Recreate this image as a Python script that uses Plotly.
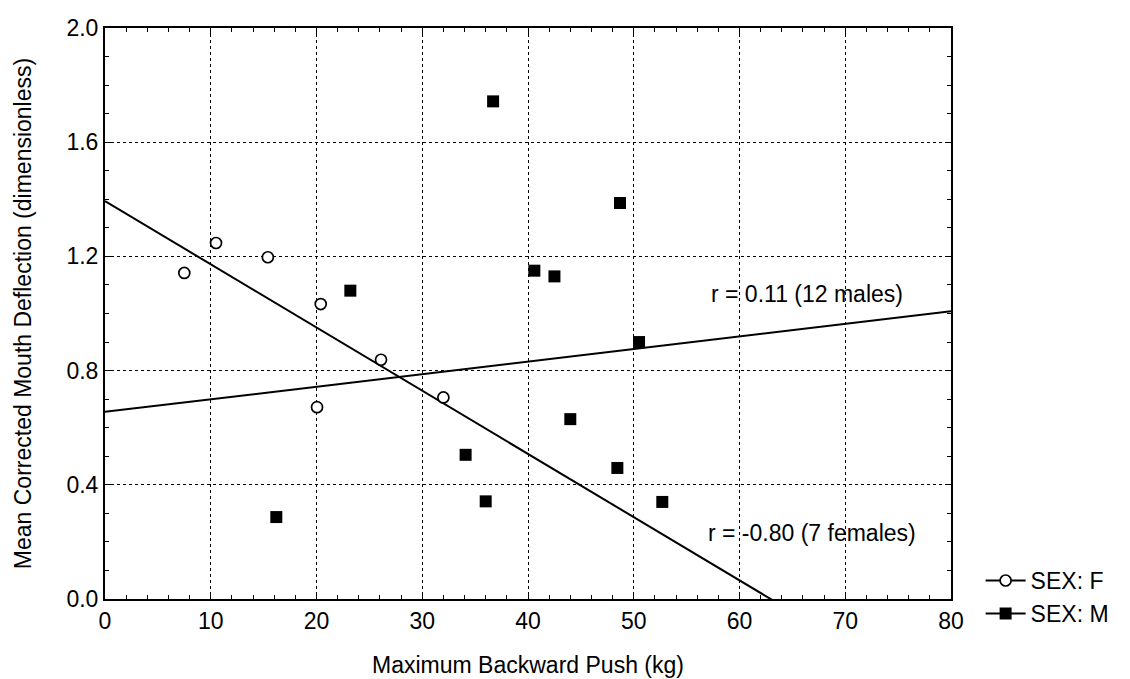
import numpy as np
import plotly.graph_objects as go

# Female data (open circles)
female_x = [7.5, 10.5, 15.4, 20.4, 20.05, 26.1, 32.0]
female_y = [1.142, 1.247, 1.197, 1.033, 0.672, 0.838, 0.706]

# Male data (filled squares)
male_x = [16.2, 23.2, 34.1, 36.0, 36.7, 40.6, 42.5, 44.0, 48.45, 48.7, 50.5, 52.7]
male_y = [0.287, 1.080, 0.505, 0.342, 1.743, 1.150, 1.130, 0.630, 0.459, 1.387, 0.900, 0.340]

x_ticks = [0, 10, 20, 30, 40, 50, 60, 70, 80]
y_ticks = [0.0, 0.4, 0.8, 1.2, 1.6, 2.0]

FONT = "Liberation Sans, Arial, sans-serif"
FS = 23

# regression fits from the data
fs, fi = np.polyfit(female_x, female_y, 1)
ms, mi = np.polyfit(male_x, male_y, 1)
line_x = np.array([0.0, 80.0])

fig = go.Figure()

fig.add_trace(go.Scatter(x=line_x, y=fi + fs * line_x, mode="lines",
                         line=dict(color="black", width=2), showlegend=False,
                         hoverinfo="skip"))
fig.add_trace(go.Scatter(x=line_x, y=mi + ms * line_x, mode="lines",
                         line=dict(color="black", width=2), showlegend=False,
                         hoverinfo="skip"))

fig.add_trace(go.Scatter(x=female_x, y=female_y, mode="markers",
                         marker=dict(symbol="circle", size=11, color="white",
                                     line=dict(color="black", width=1.7)),
                         showlegend=False))
fig.add_trace(go.Scatter(x=male_x, y=male_y, mode="markers",
                         marker=dict(symbol="square", size=12, color="black",
                                     line=dict(color="black", width=0)),
                         showlegend=False))

# legend entries
fig.add_trace(go.Scatter(x=[None], y=[None], mode="lines+markers", name="SEX: F",
                         line=dict(color="black", width=2),
                         marker=dict(symbol="circle", size=11, color="white",
                                     line=dict(color="black", width=1.7))))
fig.add_trace(go.Scatter(x=[None], y=[None], mode="lines+markers", name="SEX: M",
                         line=dict(color="black", width=2),
                         marker=dict(symbol="square", size=12, color="black")))

fig.add_annotation(x=66.4, y=1.07, xref="x", yref="y", text="r = 0.11 (12 males)",
                   showarrow=False, xanchor="center", yanchor="middle",
                   font=dict(family=FONT, size=FS, color="black"))
fig.add_annotation(x=66.9, y=0.23, xref="x", yref="y", text="r = -0.80 (7 females)",
                   showarrow=False, xanchor="center", yanchor="middle",
                   font=dict(family=FONT, size=FS, color="black"))

axis_common = dict(
    showline=True, linecolor="black", linewidth=2, mirror="allticks",
    ticks="inside", ticklen=6, tickcolor="black", tickwidth=1,
    showgrid=True, gridcolor="black", gridwidth=1, griddash="dot",
    zeroline=False, automargin=False,
    tickfont=dict(family=FONT, size=FS, color="black"),
)

fig.update_xaxes(
    range=[0, 80], tickvals=x_ticks, ticktext=[str(v) for v in x_ticks],
    minor=dict(dtick=2, tick0=0, ticks="inside", ticklen=4, tickcolor="black", showgrid=False),
    title=dict(text="Maximum Backward Push (kg)", font=dict(family=FONT, size=FS, color="black"),
               standoff=24),
    **axis_common,
)
fig.update_yaxes(
    range=[0, 2.0], tickvals=y_ticks, ticktext=[f"{v:.1f}" for v in y_ticks],
    minor=dict(dtick=0.1, tick0=0, ticks="inside", ticklen=4, tickcolor="black", showgrid=False),
    title=dict(text="Mean Corrected Mouth Deflection (dimensionless)",
               font=dict(family=FONT, size=FS, color="black"), standoff=28),
    **axis_common,
)

fig.update_layout(
    width=1130, height=679,
    margin=dict(l=97, r=187, t=20, b=88),
    plot_bgcolor="white", paper_bgcolor="white",
    font=dict(family=FONT, size=FS, color="black"),
    legend=dict(x=1.035, y=0.07, xanchor="left", yanchor="top",
                bgcolor="rgba(0,0,0,0)", font=dict(family=FONT, size=FS, color="black"),
                itemwidth=40, tracegroupgap=2),
    showlegend=True,
)

fig.write_html("out.html")
